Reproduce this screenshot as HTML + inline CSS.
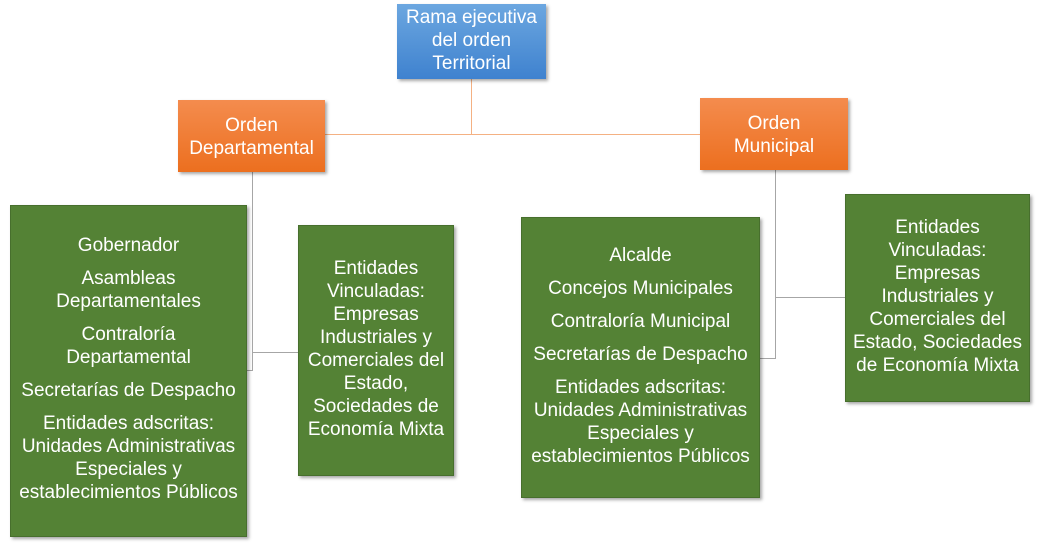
<!DOCTYPE html>
<html><head><meta charset="utf-8"><style>
body{margin:0;width:1037px;height:543px;background:#fff;position:relative;overflow:hidden;font-family:"Liberation Sans",sans-serif;}
.b{position:absolute;box-sizing:border-box;color:#fff;text-align:center;display:flex;flex-direction:column;justify-content:center;align-items:center;font-size:19px;line-height:23px;box-shadow:2px 2px 3px rgba(0,0,0,0.35);white-space:nowrap;}
.g{background:#548235;border:1px solid #476f2d;}
.o{background:linear-gradient(#f48c4e,#ec6f1f);}
.bl{background:linear-gradient(#6ca7e0,#3f82cf);}
.g p{margin:0 0 10px 0;}
.g p:last-child{margin:0;}
.l{position:absolute;}
</style></head><body>
<div class="l" style="left:471px;top:79px;width:1px;height:56px;background:#f4b183"></div>
<div class="l" style="left:325px;top:134px;width:375px;height:1px;background:#f4b183"></div>
<div class="l" style="left:252px;top:172px;width:1px;height:199px;background:#a6a6a6"></div>
<div class="l" style="left:247px;top:370px;width:6px;height:1px;background:#a6a6a6"></div>
<div class="l" style="left:252px;top:352px;width:46px;height:1px;background:#a6a6a6"></div>
<div class="l" style="left:775px;top:170px;width:1px;height:189px;background:#a6a6a6"></div>
<div class="l" style="left:760px;top:358px;width:16px;height:1px;background:#a6a6a6"></div>
<div class="l" style="left:775px;top:297px;width:70px;height:1px;background:#a6a6a6"></div>

<div class="b bl" style="left:397px;top:4px;width:149px;height:75px;padding-bottom:2px;">Rama ejecutiva<br>del orden<br>Territorial</div>
<div class="b o" style="left:178px;top:100px;width:147px;height:72px;padding-top:2px;">Orden<br>Departamental</div>
<div class="b o" style="left:700px;top:98px;width:148px;height:72px;padding-top:2px;">Orden<br>Municipal</div>

<div class="b g" style="left:10px;top:205px;width:237px;height:332px;padding-bottom:4px;">
<p>Gobernador</p><p>Asambleas<br>Departamentales</p><p>Contraloría<br>Departamental</p><p>Secretarías de Despacho</p><p>Entidades adscritas:<br>Unidades Administrativas<br>Especiales y<br>establecimientos Públicos</p></div>
<div class="b g" style="left:298px;top:225px;width:156px;height:251px;padding-bottom:4px;">Entidades<br>Vinculadas:<br>Empresas<br>Industriales y<br>Comerciales del<br>Estado,<br>Sociedades de<br>Economía Mixta</div>
<div class="b g" style="left:521px;top:217px;width:239px;height:281px;padding-bottom:4px;">
<p>Alcalde</p><p>Concejos Municipales</p><p>Contraloría Municipal</p><p>Secretarías de Despacho</p><p>Entidades adscritas:<br>Unidades Administrativas<br>Especiales y<br>establecimientos Públicos</p></div>
<div class="b g" style="left:845px;top:194px;width:185px;height:208px;padding-bottom:4px;">Entidades<br>Vinculadas:<br>Empresas<br>Industriales y<br>Comerciales del<br>Estado, Sociedades<br>de Economía Mixta</div>
</body></html>
